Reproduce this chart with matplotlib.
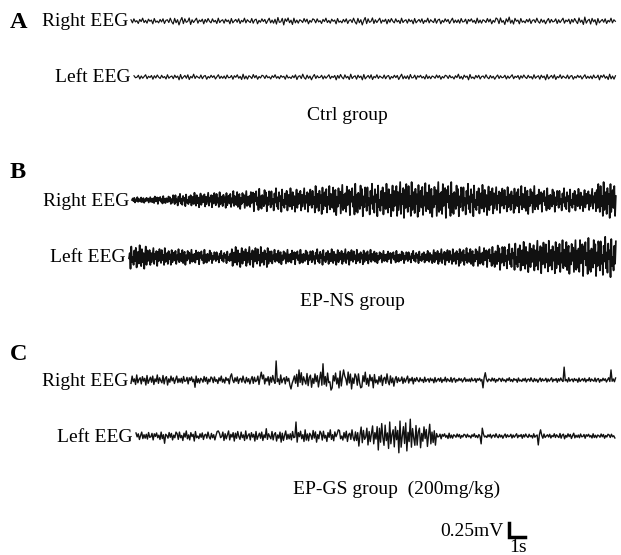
import numpy as np
import matplotlib
matplotlib.use("Agg")
import matplotlib.pyplot as plt

plt.rcParams['font.family'] = ['Liberation Serif', 'DejaVu Serif']

# hand-traced zigzag of the fast EEG activity (arbitrary units, -9..9)
MOTIF = [4, -6, 7, -3, 1, -8, 5, -2, 9, -5, 2, -7, 6, -1, 3, -9, 8, -4, 0, -6,
         5, -3, 7, -8, 2, 4, -5, 9, -2, -7, 6, -4, 3, -9, 1, 8, -6, 5, -3, -1,
         7, -8, 4, -5, 2, 9, -7, 3, -2, 6, -9, 5, -4, 8, -1, -6, 7, -3, 2, -8,
         9, -5, 1, 4, -7, 6, -2, 3, -9, 8, -6, 0, 5, -4, 7, -8, 2, -3, 9, -6,
         4, -1, -5, 8, -7, 3, 6, -9, 2, -4, 7, -2, 5, -8, 1, 9, -6, 3, -5, 4,
         -7, 8, -3, -2, 6, -9, 5, -1, 7, -4, 2, -8, 9, -6, 3, -7, 4, 1, -5, 8,
         -3, 6, -9, 2, -4, 7]

# peak amplitude (mV) along each trace, 24 equal segments left to right
CTRL_RIGHT_ENV = [0.05, 0.05, 0.07, 0.05, 0.05, 0.05, 0.05, 0.07, 0.05, 0.05, 0.05, 0.07,
                  0.05, 0.05, 0.05, 0.05, 0.05, 0.05, 0.07, 0.05, 0.05, 0.05, 0.07, 0.05]
CTRL_LEFT_ENV = [0.04, 0.04, 0.05, 0.04, 0.04, 0.05, 0.04, 0.04, 0.05, 0.04, 0.05, 0.05,
                 0.04, 0.05, 0.04, 0.04, 0.05, 0.04, 0.04, 0.04, 0.05, 0.04, 0.04, 0.05]
NS_RIGHT_ENV = [0.05, 0.07, 0.11, 0.13, 0.14, 0.16, 0.20, 0.21, 0.21, 0.25, 0.27, 0.29,
                0.29, 0.32, 0.30, 0.32, 0.29, 0.27, 0.23, 0.25, 0.21, 0.21, 0.20, 0.32]
NS_LEFT_ENV = [0.21, 0.16, 0.14, 0.13, 0.11, 0.18, 0.18, 0.13, 0.13, 0.14, 0.14, 0.13,
               0.11, 0.11, 0.11, 0.14, 0.16, 0.18, 0.23, 0.27, 0.29, 0.30, 0.34, 0.36]
GS_RIGHT_ENV = [0.09, 0.09, 0.07, 0.07, 0.07, 0.07, 0.09, 0.09, 0.13, 0.14, 0.16, 0.14,
                0.11, 0.07, 0.05, 0.05, 0.04, 0.04, 0.04, 0.04, 0.04, 0.04, 0.04, 0.04]
GS_LEFT_ENV = [0.07, 0.07, 0.09, 0.07, 0.09, 0.09, 0.09, 0.09, 0.11, 0.11, 0.11, 0.18,
               0.25, 0.30, 0.21, 0.05, 0.04, 0.04, 0.04, 0.04, 0.04, 0.05, 0.04, 0.04]

# isolated spikes: (time s, mV)
GS_RIGHT_SPIKES = [(4.0, -0.13), (6.3, 0.11), (8.2, 0.14), (9.1, 0.34), (10.0, -0.16),
                   (10.5, 0.18), (12.0, 0.29), (12.5, -0.18), (13.3, 0.18), (14.4, -0.14),
                   (22.0, -0.14), (22.2, 0.13), (27.1, 0.23), (30.0, 0.18)]
GS_LEFT_SPIKES = [(1.8, -0.13), (5.2, 0.09), (8.2, 0.13), (9.1, -0.11), (10.0, 0.25),
                  (12.7, 0.11), (21.6, -0.14), (21.7, 0.14), (25.2, -0.16), (25.3, 0.11)]

PANELS = ['A', 'B', 'C']
GROUPS = ['Ctrl group', 'EP-NS group', 'EP-GS group  (200mg/kg)']
SCALE_MV = 0.25
SCALE_S = 1

PX_PER_S = 16
PX_PER_MV = 56
X_END = 617


def trace(env, rate, dur, offset, spikes=()):
    n = int(dur * rate)
    t = np.arange(n) / rate
    m = np.roll(np.array(MOTIF) / 9.0, -offset)
    wave = np.resize(m, n)
    seg = (np.arange(n) * len(env)) // n
    v = wave * np.array(env)[seg]
    for ts, amp in spikes:
        v[min(int(ts * rate), n - 1)] = amp
    return t, v


fig = plt.figure(figsize=(6.21, 5.55), dpi=100)
ax = fig.add_axes([0, 0, 1, 1])
ax.set_xlim(0, 621)
ax.set_ylim(555, 0)
ax.axis('off')

# (env, spikes, x start px, y px, samples/s, motif offset, lw)
rows = [
    (CTRL_RIGHT_ENV, [], 131, 21, 11, 0, 0.85),
    (CTRL_LEFT_ENV, [], 134, 77, 11, 37, 0.85),
    (NS_RIGHT_ENV, [], 132, 200, 21, 71, 1.25),
    (NS_LEFT_ENV, [], 129, 257, 21, 13, 1.25),
    (GS_RIGHT_ENV, GS_RIGHT_SPIKES, 131, 380, 14, 55, 1.0),
    (GS_LEFT_ENV, GS_LEFT_SPIKES, 136, 436, 14, 90, 1.0),
]
names = ['Right EEG', 'Left EEG'] * 3

for (env, sp, x0, yc, rate, off, lw), name in zip(rows, names):
    t, v = trace(env, rate, (X_END - x0) / PX_PER_S, off, sp)
    ax.plot(x0 + t * PX_PER_S, yc - v * PX_PER_MV, color='#111111', lw=lw)
    ax.text(x0 - 3, yc + 1, name, ha='right', va='center', fontsize=14)

for lab, y in zip(PANELS, [22, 173, 355]):
    ax.text(10, y, lab, ha='left', va='center', fontsize=17.5, fontweight='bold')

for g, (x, y) in zip(GROUPS, [(347, 115), (352, 301), (397, 489)]):
    ax.text(x, y, g, ha='center', va='center', fontsize=14)

# scale bar
bx, by = 509, 537
ax.plot([bx, bx, bx + SCALE_S * PX_PER_S],
        [by - SCALE_MV * PX_PER_MV, by, by], color='black', lw=2.5,
        solid_joinstyle='miter')
ax.text(bx - 5, 531, '%.2fmV' % SCALE_MV, ha='right', va='center', fontsize=14)
ax.text(bx + 9, 548, '%ds' % SCALE_S, ha='center', va='center', fontsize=14)

fig.savefig('out.png', dpi=100)
